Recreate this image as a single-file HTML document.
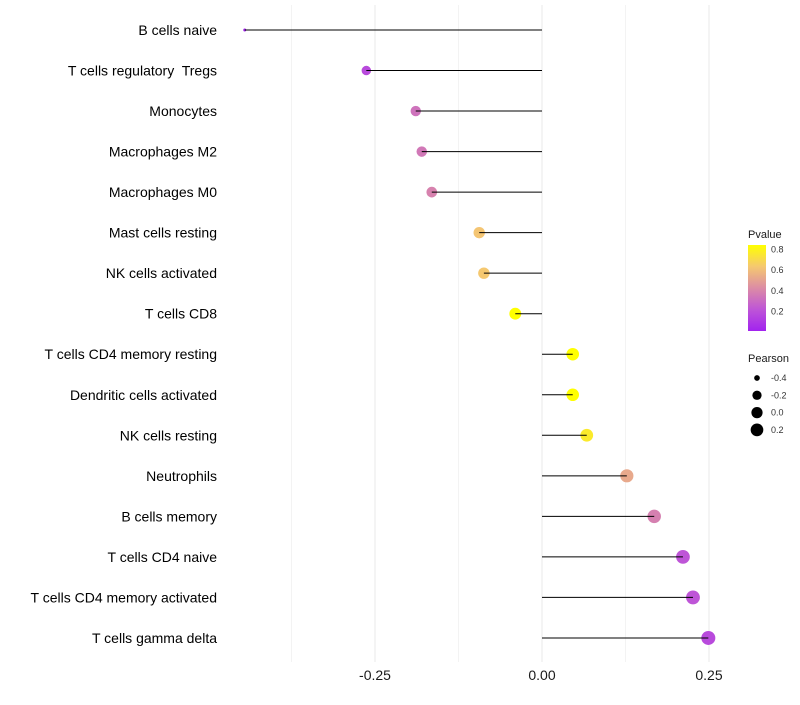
<!DOCTYPE html>
<html><head><meta charset="utf-8"><style>
body{margin:0;background:#fff;font-family:"Liberation Sans",sans-serif}
text{white-space:pre}
</style></head><body>
<svg id="c" width="800" height="700" xmlns="http://www.w3.org/2000/svg"></svg>
<script>
const categories=["B cells naive","T cells regulatory  Tregs","Monocytes","Macrophages M2","Macrophages M0","Mast cells resting","NK cells activated","T cells CD8","T cells CD4 memory resting","Dendritic cells activated","NK cells resting","Neutrophils","B cells memory","T cells CD4 naive","T cells CD4 memory activated","T cells gamma delta"];
const pearson=[-0.445,-0.263,-0.189,-0.180,-0.165,-0.094,-0.087,-0.040,0.046,0.046,0.067,0.127,0.168,0.211,0.226,0.249];
const pvalue=[0.02,0.16,0.32,0.34,0.38,0.62,0.63,0.88,0.84,0.84,0.76,0.52,0.37,0.20,0.20,0.16];
const xTicks=[-0.25,0,0.25];
const xTickLabels=["-0.25","0.00","0.25"];
const pTicks=[0.2,0.4,0.6,0.8];
const sizeTicks=[-0.4,-0.2,0.0,0.2];
const NS="http://www.w3.org/2000/svg";
const svg=document.getElementById('c');
const X=v=>542+v*668;
const Y=i=>30+i*40.53;
const R=p=>1.5+5.5*Math.pow(Math.max(0,(p+0.445)/0.694),0.4);
function col(p){
  const st=[[0,[160,32,240]],[0.2,[190,85,215]],[0.42,[220,140,165]],[0.63,[245,200,112]],[0.84,[255,255,0]]];
  p=Math.max(0,Math.min(0.84,p));
  for(let k=0;k<st.length-1;k++){const [a,ca]=st[k],[b,cb]=st[k+1];
    if(p<=b){const t=(p-a)/(b-a);return 'rgb('+ca.map((c,j)=>Math.round(c+(cb[j]-c)*t)).join(',')+')';}}
  return 'rgb(255,255,0)';
}
function el(t,a,txt){const e=document.createElementNS(NS,t);for(const k in a)e.setAttribute(k,a[k]);if(txt!=null)e.textContent=txt;svg.appendChild(e);return e;}
[-0.375,-0.25,-0.125,0,0.125,0.25].forEach(v=>{
  const g=el('line',{x1:X(v),x2:X(v),y1:5,y2:662,stroke:'#ebebeb','stroke-width':v*8%2==0?1.1:0.6});
  
  
});
xTicks.forEach((v,i)=>{
  const t=el('text',{x:X(v),y:680,'text-anchor':'middle','font-size':14,fill:'#1a1a1a'},xTickLabels[i]);
  
  
});
categories.forEach((c,i)=>{
  const t=el('text',{x:217,y:Y(i)+5,'text-anchor':'end','font-size':14,fill:'#000'},c);
  
  
  const p=el('circle',{cx:X(pearson[i]),cy:Y(i),r:R(pearson[i]),fill:col(pvalue[i])});
  
  
  const l=el('line',{x1:X(pearson[i]),x2:X(0),y1:Y(i),y2:Y(i),stroke:'#000','stroke-width':1});
  
  
});
const defs=el('defs',{});
const lg=document.createElementNS(NS,'linearGradient');lg.setAttribute('id','g');lg.setAttribute('x1',0);lg.setAttribute('y1',1);lg.setAttribute('x2',0);lg.setAttribute('y2',0);defs.appendChild(lg);
[[0,0.01],[0.25,0.2],[0.5,0.42],[0.75,0.63],[1,0.84]].forEach(([o,p])=>{const s=document.createElementNS(NS,'stop');s.setAttribute('offset',o);s.setAttribute('stop-color',col(p));lg.appendChild(s);});
let t=el('text',{x:748,y:238,'font-size':11,fill:'#1a1a1a'},'Pvalue');


const bar=el('rect',{x:748,y:245,width:18,height:86,fill:'url(#g)'});


const PY=p=>332-p*103;
pTicks.forEach(p=>{
  const tt=el('text',{x:771,y:PY(p)+3,'font-size':9,fill:'#333'},p.toFixed(1));
  
  
});
t=el('text',{x:748,y:362,'font-size':11,fill:'#1a1a1a'},'Pearson');


sizeTicks.forEach((s,i)=>{
  const y=378+i*17.3;
  const c=el('circle',{cx:757,cy:y,r:R(s)-0.5,fill:'#000'});
  
  
  const tt=el('text',{x:771,y:y+3,'font-size':9,fill:'#333'},s.toFixed(1));
  
  
});
</script>
</body></html>
